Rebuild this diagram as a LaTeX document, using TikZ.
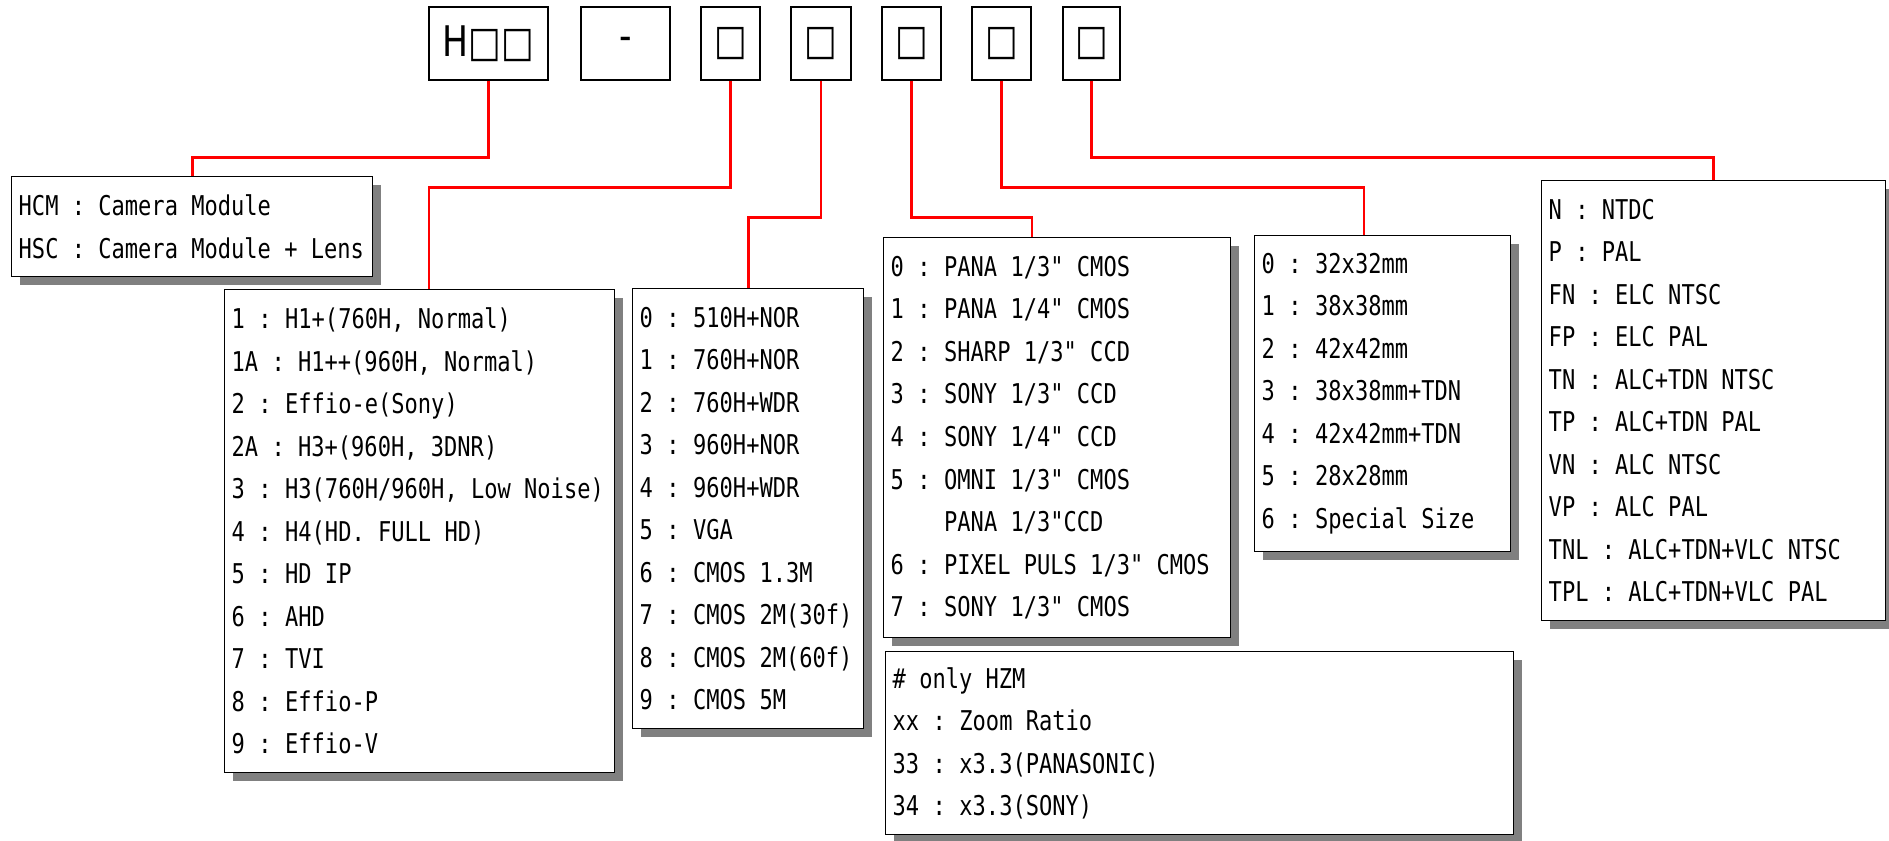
\documentclass[tikz,border=0pt]{standalone}
\usepackage{fontspec}
\setmainfont{DejaVu Sans Mono}[FakeStretch=0.81,Ligatures=TeXOff]
\newfontfamily\codefont{DejaVu Sans}[FakeStretch=0.82,Ligatures=TeXOff]
\usetikzlibrary{calc,shadows}
\tikzset{
  code/.style={draw,line width=0.8pt,minimum height=1.46cm,inner sep=0pt,
               font=\codefont\fontsize{24}{24}\selectfont},          % code field
  list/.style={draw,line width=0.8pt,fill=white,anchor=north west,align=left,
               inner xsep=0.14cm,inner ysep=0pt,font=\fontsize{15.5}{24.2}\selectfont,
               execute at begin node={\spaceskip=7.56pt\relax},
               drop shadow={shadow xshift=0.16cm,shadow yshift=-0.16cm,
                            fill=black!50,opacity=1}},                 % option table
  wire/.style={draw=red,line width=1.6pt}
}

\begin{document}
\begin{tikzpicture}[x=0.02cm,y=-0.02cm]
  \useasboundingbox (0,0) rectangle (1889,841);

  % code fields
  \node[code,minimum width=2.38cm] (model) at (488.5,43.5) {H□□};
  \node[code,minimum width=1.78cm] (dash) at (625.5,43.5) {-};
  \node[code,minimum width=1.18cm] (cser) at (730.5,43.5) {□};
  \node[code,minimum width=1.20cm] (cres) at (821,43.5) {□};
  \node[code,minimum width=1.18cm] (csens) at (911.5,43.5) {□};
  \node[code,minimum width=1.18cm] (csize) at (1001.5,43.5) {□};
  \node[code,minimum width=1.14cm] (cfunc) at (1091.5,43.5) {□};

  % option tables
  \node[list,text width=6.94cm,minimum width=7.22cm,minimum height=2.00cm] (typ) at (11,176)
    {HCM : Camera Module\\HSC : Camera Module + Lens};
  \node[list,text width=7.52cm,minimum width=7.80cm,minimum height=9.66cm] (ser) at (224,289)
    {1 : H1+(760H, Normal)\\1A : H1++(960H, Normal)\\2 : Effio-e(Sony)\\
     2A : H3+(960H, 3DNR)\\3 : H3(760H/960H, Low Noise)\\4 : H4(HD. FULL HD)\\
     5 : HD IP\\6 : AHD\\7 : TVI\\8 : Effio-P\\9 : Effio-V};
  \node[list,text width=4.34cm,minimum width=4.62cm,minimum height=8.80cm] (res) at (632,288)
    {0 : 510H+NOR\\1 : 760H+NOR\\2 : 760H+WDR\\3 : 960H+NOR\\4 : 960H+WDR\\
     5 : VGA\\6 : CMOS 1.3M\\7 : CMOS 2M(30f)\\8 : CMOS 2M(60f)\\9 : CMOS 5M};
  \node[list,text width=6.66cm,minimum width=6.94cm,minimum height=8.00cm] (sensor) at (883,237)
    {0 : PANA 1/3" CMOS\\1 : PANA 1/4" CMOS\\2 : SHARP 1/3" CCD\\3 : SONY 1/3" CCD\\
     4 : SONY 1/4" CCD\\5 : OMNI 1/3" CMOS\\\phantom{5 : }PANA 1/3"CCD\\
     6 : PIXEL PULS 1/3" CMOS\\7 : SONY 1/3" CMOS};
  \node[list,text width=12.28cm,minimum width=12.56cm,minimum height=3.66cm] (zoom) at (885,651)
    {\# only HZM\\xx : Zoom Ratio\\33 : x3.3(PANASONIC)\\34 : x3.3(SONY)};
  \node[list,text width=4.84cm,minimum width=5.12cm,minimum height=6.32cm] (size) at (1254,235)
    {0 : 32x32mm\\1 : 38x38mm\\2 : 42x42mm\\3 : 38x38mm+TDN\\4 : 42x42mm+TDN\\
     5 : 28x28mm\\6 : Special Size};
  \node[list,text width=6.60cm,minimum width=6.88cm,minimum height=8.80cm] (func) at (1541,180)
    {N : NTDC\\P : PAL\\FN : ELC NTSC\\FP : ELC PAL\\TN : ALC+TDN NTSC\\TP : ALC+TDN PAL\\
     VN : ALC NTSC\\VP : ALC PAL\\TNL : ALC+TDN+VLC NTSC\\TPL : ALC+TDN+VLC PAL};

  % leaders
  \draw[wire] (model.south) -- ++(0,77) -| (typ.north);
  \draw[wire] (cser.south) -- ++(0,107) -| ($(ser.north west)+(205,0)$);
  \draw[wire] (cres.south) -- ++(0,137) -| (res.north);
  \draw[wire] (csens.south) -- ++(0,137) -| ($(sensor.north west)+(149,0)$);
  \draw[wire] (csize.south) -- ++(0,107) -| ($(size.north west)+(110,0)$);
  \draw[wire] (cfunc.south) -- ++(0,77) -| (func.north);
\end{tikzpicture}
\end{document}
